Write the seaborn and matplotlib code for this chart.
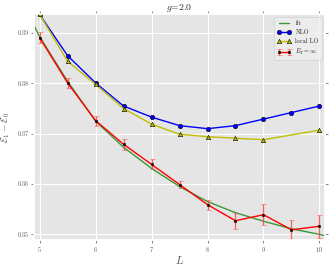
import numpy as np
import pandas as pd
import seaborn as sns
import matplotlib
matplotlib.use('Agg')
import matplotlib.pyplot as plt

# values
L_nlo = [5.0, 5.5, 6.0, 6.5, 7.0, 7.5, 8.0, 8.5, 9.0, 9.5, 10.0]
nlo = [0.3937, 0.3855, 0.3801, 0.3755, 0.3733, 0.3716, 0.3710, 0.3716, 0.3729, 0.3742, 0.3755]

L_lo = [5.0, 5.5, 6.0, 6.5, 7.0, 7.5, 8.0, 8.5, 9.0, 10.0]
local_lo = [0.3937, 0.3844, 0.3798, 0.3750, 0.3719, 0.3699, 0.3694, 0.3691, 0.3688, 0.3707]

L_inf = [5.0, 5.5, 6.0, 6.5, 7.0, 7.5, 8.0, 8.5, 9.0, 9.5, 10.0]
e_inf = [0.3891, 0.3801, 0.3726, 0.3679, 0.3639, 0.3599, 0.3559, 0.3527, 0.3539, 0.3509, 0.3516]
e_inf_err = [0.0011, 0.0010, 0.0010, 0.0011, 0.0010, 0.0007, 0.0010, 0.0016, 0.0021, 0.0019, 0.0023]

L_fit = [4.9, 5.0, 5.5, 6.0, 6.5, 7.0, 7.5, 8.0, 8.5, 9.0, 9.5, 10.0, 10.1]
fit = [0.3915, 0.3893, 0.3804, 0.3725, 0.3673, 0.3631, 0.3595, 0.3565, 0.3543, 0.3526, 0.3511, 0.3500, 0.3497]

sns.set_theme(style='darkgrid', color_codes=False, rc={
    'axes.facecolor': '#E5E5E5',
    'grid.color': 'white',
    'grid.linewidth': 0.8,
    'axes.edgecolor': 'white',
    'xtick.bottom': True, 'xtick.top': True,
    'ytick.left': True, 'ytick.right': True,
    'xtick.direction': 'out', 'ytick.direction': 'out',
    'xtick.color': '#555555', 'ytick.color': '#555555',
    'xtick.major.size': 2, 'ytick.major.size': 2,
    'xtick.major.width': 0.5, 'ytick.major.width': 0.5,
})
plt.rcParams['font.family'] = ['cmr10', 'DejaVu Serif']
plt.rcParams['mathtext.fontset'] = 'cm'
plt.rcParams['axes.formatter.use_mathtext'] = True

fig = plt.figure(figsize=(3.3, 2.68), dpi=100)
ax = fig.add_axes([0.103, 0.105, 0.882, 0.843])

sns.lineplot(x=L_fit, y=fit, color='#008000', alpha=0.75, lw=1, label='fit', ax=ax)
sns.lineplot(x=L_nlo, y=nlo, color='#0000ff', lw=1, marker='o', markersize=3.2,
             markerfacecolor='#0000ff', markeredgecolor='k', markeredgewidth=0.4,
             label='NLO', ax=ax)
sns.lineplot(x=L_lo, y=local_lo, color='#bfbf00', lw=1, marker='^', markersize=3.2,
             markerfacecolor='#bfbf00', markeredgecolor='k', markeredgewidth=0.4,
             label='local LO', ax=ax)
ax.errorbar(L_inf, e_inf, yerr=e_inf_err, color='#ff0000', lw=1, marker='s', markersize=1.8,
            markerfacecolor='#300000', markeredgecolor='k', markeredgewidth=0.4,
            ecolor=(1, 0.25, 0.25, 0.85),
            elinewidth=0.9, capsize=1.8, capthick=0.9, label=r'$E_T=\infty$')

ax.set_xlim(4.9, 10.1)
ax.set_ylim(0.3489, 0.3938)
ax.set_xticks([5, 6, 7, 8, 9, 10])
ax.set_yticks([0.35, 0.36, 0.37, 0.38, 0.39])
ax.set_yticklabels(['0.35', '0.36', '0.37', '0.38', '0.39'])
ax.tick_params(labelsize=4.5, pad=2)

ax.set_title(r'$g$=2.0', fontsize=7, pad=2)
ax.set_xlabel(r'$L$', fontsize=8, color='#555555', labelpad=0)
ax.set_ylabel(r'$\mathcal{E}_1-\mathcal{E}_0$', fontsize=7, color='#555555', labelpad=4)

leg = ax.legend(loc='upper right', fontsize=4.5, numpoints=2, frameon=True,
                framealpha=0.8, borderpad=0.5, handlelength=2.2, labelspacing=0.5)
leg.get_frame().set_facecolor('#EEEEEE')
leg.get_frame().set_edgecolor('#CCCCCC')
leg.get_frame().set_linewidth(0.5)

fig.savefig('out.png', dpi=100)
